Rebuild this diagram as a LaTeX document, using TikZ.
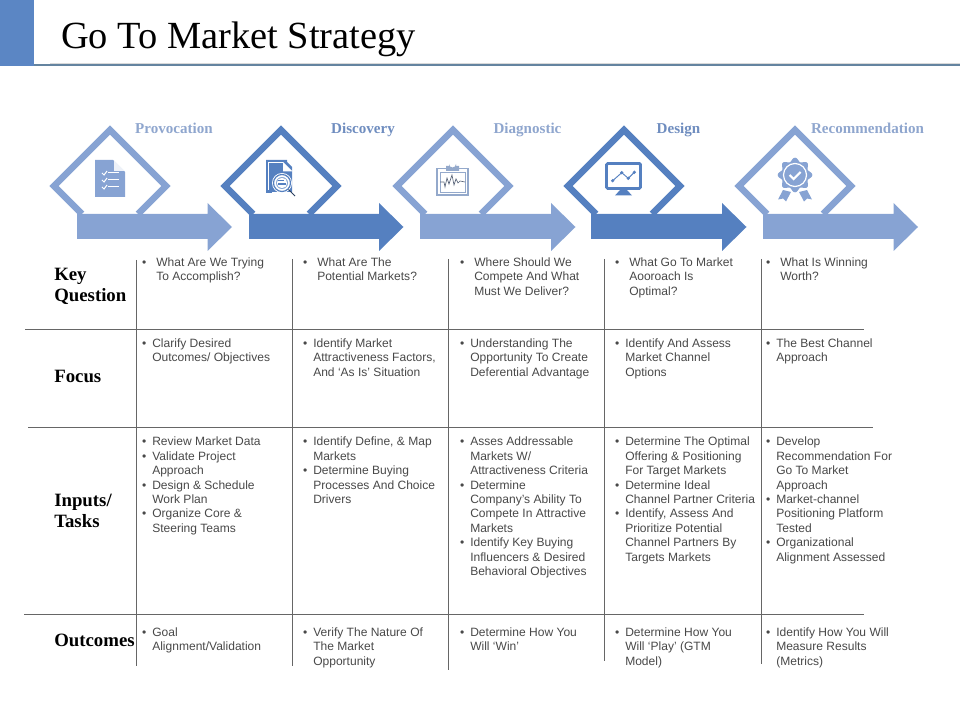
\documentclass[tikz,border=0pt]{standalone}
\usepackage{fontspec}
\setmainfont{Liberation Serif}
\setsansfont{Liberation Sans}
\definecolor{lightblue}{HTML}{87A3D3}
\definecolor{darkblue}{HTML}{5580C0}
\definecolor{barblue}{HTML}{5B86C4}
\definecolor{rulegray}{HTML}{666666}
\definecolor{celltext}{HTML}{484848}
\definecolor{clipblue}{HTML}{94A9CB}
\definecolor{headlight}{HTML}{8FA6CE}
\definecolor{headdark}{HTML}{6F8DBF}
\definecolor{headrule}{RGB}{100,132,160}
\newcommand{\bu}{\leavevmode\strut\llap{•\hspace{4.5pt}}}
\newcommand{\bU}{\leavevmode\strut\llap{•\hspace{7.5pt}}}
\newcommand{\dmd}[2]{\draw[line width=4.8pt,miter limit=10,#2] ({#1-28},214)--({#1-56},186)--(#1,130)--({#1+56},186)--({#1+28},214);}
\newcommand{\arw}[3]{\fill[#3] (#1,214)--({#2-24.5},214)--({#2-24.5},203)--(#2,227)--({#2-24.5},251)--({#2-24.5},239)--(#1,239)--cycle;}
\tikzset{
  cell/.style={anchor=north west,inner sep=0pt,align=left,text=celltext,font=\sffamily\fontsize{9.03}{10.8}\selectfont},
  rowhead/.style={anchor=base west,inner sep=0pt,align=left,font=\bfseries\fontsize{14.1}{16}\selectfont},
  stagehead/.style={anchor=base,inner sep=0pt,font=\bfseries\fontsize{11.3}{13}\selectfont},
  gridrule/.style={draw=rulegray,line width=0.75pt},
}
\begin{document}
\begin{tikzpicture}[x=0.75pt,y=-0.75pt]
\useasboundingbox (0,0) rectangle (960,720);
% header
\fill[barblue] (0,0) rectangle (34,66);
\draw[draw=black!15,line width=0.6pt] (50,63.5)--(960,63.5);
\fill[headrule] (34,64.5) rectangle (960,66.5);
\node[anchor=base west,inner sep=0pt,font=\fontsize{28.8}{32}\selectfont] (title) at (61,49) {Go To Market Strategy};
% diamonds and arrows
\dmd{110}{draw=lightblue}
\dmd{281}{draw=darkblue}
\dmd{453}{draw=lightblue}
\dmd{624}{draw=darkblue}
\dmd{795}{draw=lightblue}
\arw{77}{232}{lightblue}
\arw{249}{403.5}{darkblue}
\arw{420}{575.5}{lightblue}
\arw{591}{746.5}{darkblue}
\arw{763}{918}{lightblue}
% stage heads
\node[stagehead,text=headlight] (s1) at (174,133.5) {Provocation};
\node[stagehead,text=headdark] (s2) at (363,133.5) {Discovery};
\node[stagehead,text=headlight] (s3) at (527.5,133.5) {Diagnostic};
\node[stagehead,text=headdark] (s4) at (678.5,133.5) {Design};
\node[stagehead,text=headlight] (s5) at (867.5,133.5) {Recommendation};
% icon 1: checklist
\fill[lightblue] (95,160)--(113,160)--(125,172)--(125,197)--(95,197)--cycle;
\fill[white!85!lightblue] (114,160.5)--(124.5,171)--(114,171)--cycle;
\foreach \yy in {173,180,187}{
  \draw[white,line width=0.75pt] (102,\yy)--(104,{\yy+2})--(107,{\yy-2});
  \draw[white,line width=0.75pt] (108,\yy)--(119,\yy);
}
% icon 2: document with magnifier
\fill[darkblue] (266,160)--(287,160)--(287,162)--(292,167)--(292,192)--(266,192)--cycle;
\draw[white,line width=0.6pt] (268.5,194)--(268.5,162.5)--(283,162.5);
\fill[white] (283,162)--(292.5,171.5)--(283,171.5)--cycle;
\fill[white] (270,193)--(296,193)--(296,197)--(270,197)--cycle;
\fill[white] (282,183) circle (10);
\fill[darkblue] (266,190)--(272,190)--(272,193)--(266,193)--cycle;
\draw[darkblue,line width=0.9pt] (282,183) circle (8.5);
\fill[darkblue!70] (282,183) circle (6);
\fill[white] (282,183) circle (5.2);
\draw[darkblue,line width=0.8pt] (278,180.5)--(284,180.5) (278,184)--(286,184);
\draw[black!50!darkblue,line width=0.7pt] (288.5,189.5)--(295,196);
% icon 3: clipboard
\draw[clipblue,line width=0.9pt] (446,168.5)--(437,168.5)--(437,195)--(468,195)--(468,168.5)--(459,168.5);
\draw[clipblue,line width=0.6pt] (440,172)--(465,172)--(465,192)--(440,192)--cycle;
\fill[clipblue] (446,171)--(446,166)--(449,166)--(449,164) arc (180:0:3.5)--(456,166)--(459,166)--(459,171)--cycle;
\fill[white] (452.5,164.5) circle (1.4);
\draw[black!40!clipblue,line width=0.5pt] (440,182)--(444,182)--(445,187)--(447,178)--(449,184)--(452,175)--(454,185)--(456,179)--(458,183)--(460,181)--(465,182);
% icon 4: monitor
\draw[darkblue,line width=2.2pt,rounded corners=1pt] (606.5,163.5) rectangle (640.5,188.5);
\fill[darkblue] (620,190)--(627,190)--(632,195.5)--(615,195.5)--cycle;
\draw[darkblue,line width=0.7pt] (612.7,180.7)--(621.7,172.7)--(628.3,178.3)--(634.3,172.3);
\foreach \px/\py in {612.7/180.7,621.7/172.7,628.3/178.3,634.3/172.3}{\fill[darkblue] (\px,\py) circle (1.8);}
% icon 5: badge
\fill[lightblue] (783,190)--(778,199.5)--(783,198.5)--(786,201.5)--(791,192)--cycle;
\fill[lightblue] (807,190)--(812,199.5)--(807,198.5)--(804,201.5)--(799,192)--cycle;
\fill[lightblue] plot[domain=0:360,samples=121,smooth] ({795+(15.5+1.8*cos(8*\x))*cos(\x)},{175+(15.5+1.8*cos(8*\x))*sin(\x)}) --cycle;
\draw[white,line width=0.9pt] (795,175) circle (11.5);
\draw[white,line width=1.6pt] (789.5,175)--(793.5,179)--(800.5,172);
% grid
\draw[gridrule] (25,329.5)--(864,329.5);
\draw[gridrule] (28,427.5)--(873,427.5);
\draw[gridrule] (24,614.5)--(864,614.5);
\draw[gridrule] (136.5,260)--(136.5,666);
\draw[gridrule] (292.5,259)--(292.5,666);
\draw[gridrule] (448.5,259)--(448.5,669.5);
\draw[gridrule] (604.5,259)--(604.5,660.5);
\draw[gridrule] (761.5,259)--(761.5,664);
% row heads
\node[rowhead] (r1) at (54,280.5) {Key};
\node[rowhead] (r1b) at (54,301.5) {Question};
\node[rowhead] (r2) at (54,382) {Focus};
\node[rowhead] (r3) at (54,506) {Inputs/};
\node[rowhead] (r3b) at (54,527) {Tasks};
\node[rowhead] (r4) at (54,646) {Outcomes};
% key question
\node[cell] (a1) at (156,256) {\bU What Are We Trying\\To Accomplish?};
\node[cell] (a2) at (317,256) {\bU What Are The\\Potential Markets?};
\node[cell] (a3) at (474,256) {\bU Where Should We\\Compete And What\\Must We Deliver?};
\node[cell] (a4) at (629,256) {\bU What Go To Market\\Aooroach Is\\Optimal?};
\node[cell] (a5) at (780,256) {\bU What Is Winning\\Worth?};
% focus
\node[cell] (b1) at (152,337) {\bu Clarify Desired\\Outcomes/ Objectives};
\node[cell] (b2) at (313,337) {\bu Identify Market\\Attractiveness Factors,\\And ‘As Is’ Situation};
\node[cell] (b3) at (470,337) {\bu Understanding The\\Opportunity To Create\\Deferential Advantage};
\node[cell] (b4) at (625,337) {\bu Identify And Assess\\Market Channel\\Options};
\node[cell] (b5) at (776,337) {\bu The Best Channel\\Approach};
% inputs
\node[cell] (c1) at (152,435.5) {\bu Review Market Data\\\bu Validate Project\\Approach\\\bu Design \& Schedule\\Work Plan\\\bu Organize Core \&\\Steering Teams};
\node[cell] (c2) at (313,435.5) {\bu Identify Define, \& Map\\Markets\\\bu Determine Buying\\Processes And Choice\\Drivers};
\node[cell] (c3) at (470,435.5) {\bu Asses Addressable\\Markets W/\\Attractiveness Criteria\\\bu Determine\\Company’s Ability To\\Compete In Attractive\\Markets\\\bu Identify Key Buying\\Influencers \& Desired\\Behavioral Objectives};
\node[cell] (c4) at (625,435.5) {\bu Determine The Optimal\\Offering \& Positioning\\For Target Markets\\\bu Determine Ideal\\Channel Partner Criteria\\\bu Identify, Assess And\\Prioritize Potential\\Channel Partners By\\Targets Markets};
\node[cell] (c5) at (776,435.5) {\bu Develop\\Recommendation For\\Go To Market\\Approach\\\bu Market-channel\\Positioning Platform\\Tested\\\bu Organizational\\Alignment Assessed};
% outcomes
\node[cell] (d1) at (152,626) {\bu Goal\\Alignment/Validation};
\node[cell] (d2) at (313,626) {\bu Verify The Nature Of\\The Market\\Opportunity};
\node[cell] (d3) at (470,626) {\bu Determine How You\\Will ‘Win’};
\node[cell] (d4) at (625,626) {\bu Determine How You\\Will ‘Play’ (GTM\\Model)};
\node[cell] (d5) at (776,626) {\bu Identify How You Will\\Measure Results\\(Metrics)};
\end{tikzpicture}
\end{document}
